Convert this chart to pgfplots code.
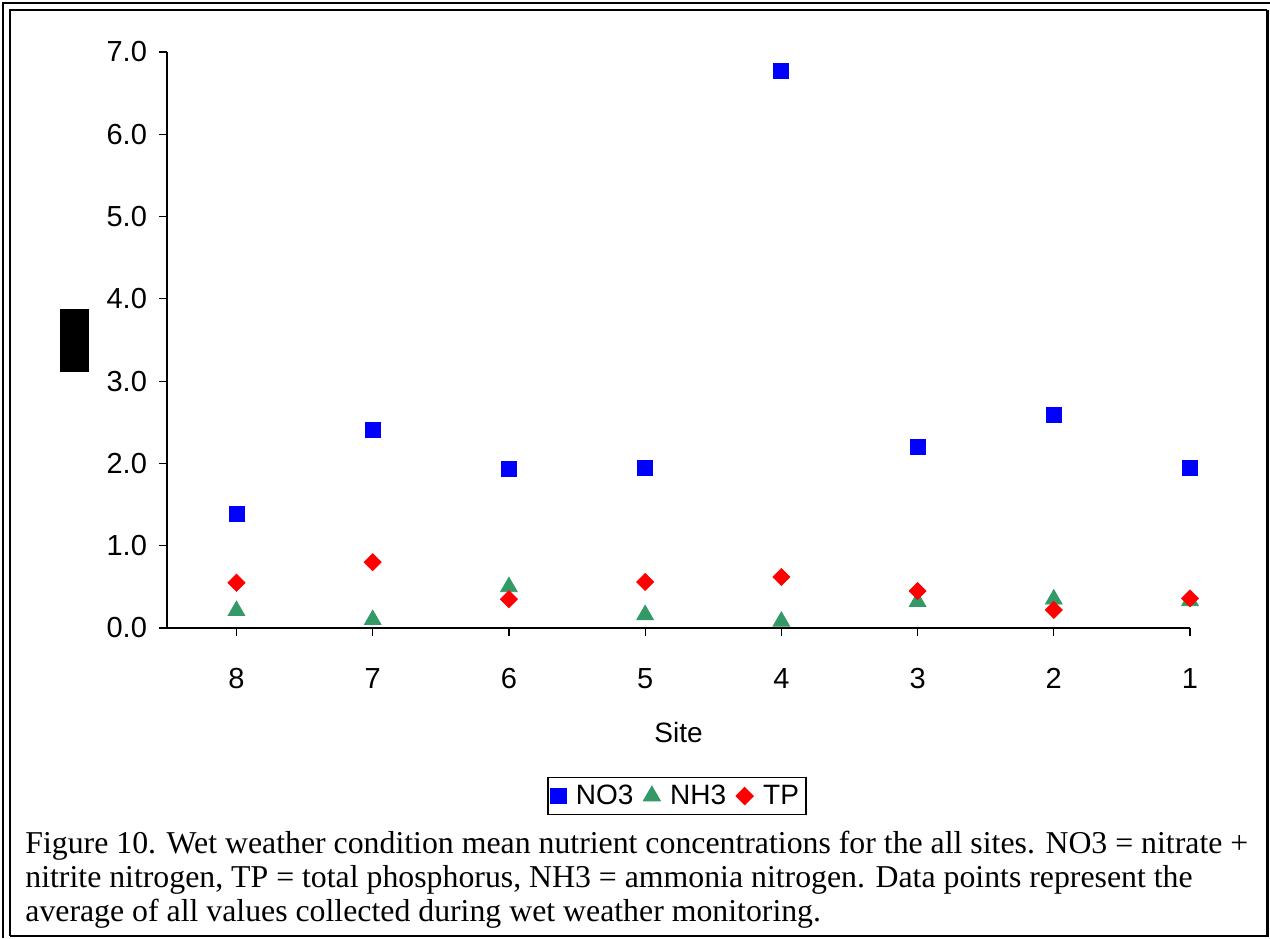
\documentclass[border=0pt]{standalone}
\usepackage{fontspec}
\setmainfont{Liberation Sans}
\newfontfamily\capfont{Liberation Serif}
\usepackage{pgfplots}
\pgfplotsset{compat=1.18}
\definecolor{no3}{RGB}{0,0,255}
\definecolor{nh3}{RGB}{51,153,102}
\definecolor{tp}{RGB}{255,0,0}

\begin{document}
\begin{tikzpicture}
\useasboundingbox (0,0) rectangle (635pt,-469pt);
% double frame (outer one cut at right and bottom)
\draw[line width=1pt] (1.5pt,-469pt) -- (1.5pt,-1.5pt) -- (635pt,-1.5pt);
\draw[line width=1pt] (5pt,-467.8pt) -- (5pt,-5pt) -- (633.5pt,-5pt);
\draw[line width=1.5pt] (633.5pt,-5pt) -- (633.5pt,-468.3pt);
\draw[line width=1pt] (5pt,-467.8pt) -- (634.25pt,-467.8pt);
% unreadable y label block
\fill[black] (30pt,-154.5pt) rectangle (44.5pt,-186pt);

\begin{axis}[
  at={(83.5pt,-314pt)}, anchor=south west,
  scale only axis, width=511.5pt, height=288pt,
  xmin=-0.51, xmax=7, ymin=0, ymax=7,
  axis x line*=bottom, axis y line*=left,
  axis line style={-, line width=0.6pt},
  xtick={0,...,7}, xticklabels={8,7,6,5,4,3,2,1},
  ytick={0,...,7},
  yticklabel={\pgfmathprintnumber[fixed,fixed zerofill,precision=1]{\tick}},
  tick align=outside, major tick length=4pt,
  tick style={black, line width=0.6pt},
  /pgf/number format/assume math mode=true,
  ticklabel style={font=\fontsize{14.5}{17}\selectfont},
  xticklabel style={yshift=-12.5pt},
  yticklabel style={xshift=-2.5pt},
  xlabel={Site},
  xlabel style={at={(axis description cs:0.5,-0.1806)}, anchor=center, font=\fontsize{14}{16}\selectfont},
  clip=false,
  legend columns=-1,
  legend style={at={(axis description cs:0.4985,-0.2917)}, anchor=center,
    draw=black, line width=0.6pt, font=\fontsize{14}{16}\selectfont,
    inner sep=1.5pt,
    /tikz/every odd column/.append style={column sep=3pt},
    /tikz/every even column/.append style={column sep=3pt}},
]
\addplot[only marks, mark=square*, mark size=3.75pt, color=no3]
  coordinates {(0,1.39)(1,2.41)(2,1.93)(3,1.94)(4,6.77)(5,2.20)(6,2.59)(7,1.94)};
\addlegendentry{NO3}
\addplot[only marks, mark=triangle*, mark size=4.8pt, color=nh3]
  coordinates {(0,0.21)(1,0.10)(2,0.50)(3,0.16)(4,0.08)(5,0.32)(6,0.35)(7,0.33)};
\addlegendentry{NH3}
\addplot[only marks, mark=square*, mark size=3pt, mark options={rotate=45}, color=tp]
  coordinates {(0,0.55)(1,0.80)(2,0.35)(3,0.56)(4,0.62)(5,0.45)(6,0.22)(7,0.36)};
\addlegendentry{TP}
\end{axis}

\begin{scope}[every node/.style={anchor=base west, inner sep=0pt, font=\capfont\fontsize{15.9}{18}\selectfont}]
\node at (12.5pt,-426.5pt) {Figure 10. Wet weather condition mean nutrient concentrations for the all sites. NO3 = nitrate +};
\node at (12.5pt,-443.75pt) {nitrite nitrogen, TP = total phosphorus, NH3 = ammonia nitrogen. Data points represent the};
\node at (12.5pt,-460.5pt) {average of all values collected during wet weather monitoring.};
\end{scope}
\end{tikzpicture}
\end{document}
